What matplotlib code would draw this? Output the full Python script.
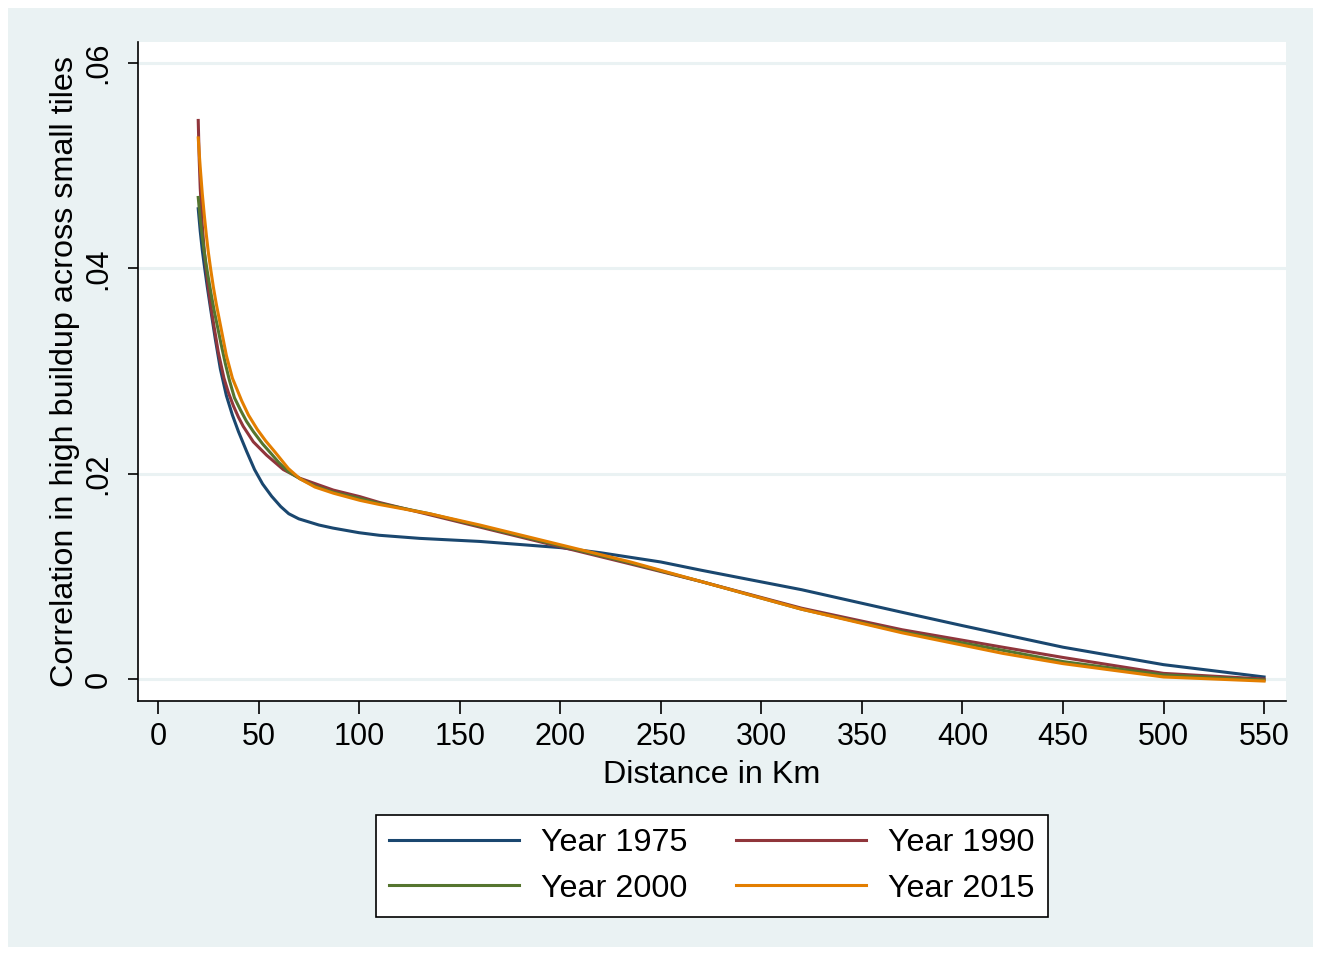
import matplotlib.pyplot as plt
from matplotlib.patches import Rectangle

plt.rcParams['font.family'] = ['Liberation Sans', 'DejaVu Sans']

# distance (km) and correlation for each year
dist_1975 = [20, 21, 22, 23, 24.5, 26.5, 28.5, 31, 34, 37, 40, 44, 48, 52, 56.5, 61, 65,
             70, 75, 80, 87, 100, 110, 130, 160, 200, 220, 250, 270, 320, 370, 400, 450,
             500, 550]
corr_1975 = [.0458, .0436, .0418, .0403, .0382, .0356, .0331, .0302, .0276, .0257, .0241,
             .0222, .0204, .0190, .0178, .0168, .0161, .0156, .0153, .0150, .0147, .01425,
             .0140, .0137, .0134, .0128, .0123, .0114, .0106, .0087, .0065, .0052, .0031,
             .0014, .0002]

dist_1990 = [20, 20.5, 21, 22, 23, 23.9, 25, 26.5, 27.8, 30, 32.8, 35, 37.5, 40, 42.4, 47.4,
             54, 62.3, 70.6, 87.2, 100.4, 110, 135, 160, 185, 210, 235, 270, 320, 370, 420,
             450, 500, 550]
corr_1990 = [.0544, .0505, .0478, .0442, .0417, .0400, .0381, .0360, .0344, .0318, .0293,
             .0279, .0266, .0255, .0246, .0231, .0218, .0204, .01955, .0184, .01776, .0172,
             .0160, .0148, .0136, .0124, .0112, .0095, .0069, .0048, .0031, .0021, .00055,
             .0000]

dist_2000 = [20, 21, 22, 23, 24, 25, 26.5, 28, 29.5, 31.5, 33.5, 35.5, 38, 41, 44, 47.4,
             52, 56.5, 60, 64.8, 70.6, 78, 87, 100, 110, 135, 160, 185, 210, 235, 270, 320,
             370, 420, 450, 500, 550]
corr_2000 = [.0469, .0448, .0431, .0416, .0403, .0391, .0374, .0358, .0344, .0325, .0307,
             .0291, .0274, .0262, .0251, .0241, .0229, .0219, .0211, .0202, .0195, .0188,
             .0182, .0176, .0171, .0161, .0149, .0137, .0125, .0113, .0095, .0068, .0046,
             .0028, .0017, .0004, -.0001]

dist_2015 = [20, 20.5, 21, 22, 23, 24, 25, 26.2, 27.5, 29, 31.2, 34, 37, 41.6, 45, 49.4,
             53.5, 58.2, 64.8, 70.6, 78, 87.2, 100.4, 110, 135, 160, 185, 210, 235, 270,
             320, 370, 420, 450, 500, 550]
corr_2015 = [.0527, .0512, .0498, .0473, .0452, .0433, .0416, .0399, .0382, .0365, .0343,
             .0315, .0293, .0271, .0257, .0243, .0232, .0221, .0205, .0195, .0187, .0181,
             .0174, .0170, .0161, .0150, .0138, .0126, .0114, .0095, .0068, .0045, .0025,
             .0015, .0002, -.0002]

x_ticks = [0, 50, 100, 150, 200, 250, 300, 350, 400, 450, 500, 550]
y_ticks = [0, .02, .04, .06]
y_tick_labels = ['0', '.02', '.04', '.06']

W, H = 1321, 955
fig = plt.figure(figsize=(W / 100, H / 100), dpi=100, facecolor='white')

# stata-style graph region behind everything
fig.patches.append(Rectangle((8 / W, 8 / H), 1 - 16 / W, 1 - 16 / H,
                             transform=fig.transFigure, facecolor='#eaf2f3',
                             edgecolor='none', zorder=-10))

ax = fig.add_axes([138 / W, (H - 701) / H, 1148 / W, 659 / H])
ax.set_facecolor('white')

l75, = ax.plot(dist_1975, corr_1975, color='#1a476f', lw=2.2, label='Year 1975')
l90, = ax.plot(dist_1990, corr_1990, color='#90353b', lw=2.2, label='Year 1990')
l00, = ax.plot(dist_2000, corr_2000, color='#55752f', lw=2.2, label='Year 2000')
l15, = ax.plot(dist_2015, corr_2015, color='#e37e00', lw=2.2, label='Year 2015')

ax.set_xlim(-9.95, 560.9)
ax.set_ylim(-0.00214, 0.06204)
ax.set_xticks(x_ticks)
ax.set_yticks(y_ticks)
ax.set_yticklabels(y_tick_labels, rotation=90, va='center')

ax.grid(axis='y', color='#eaf2f3', lw=2.2)
ax.set_axisbelow(True)

for side in ['top', 'right']:
    ax.spines[side].set_visible(False)
for side in ['left', 'bottom']:
    ax.spines[side].set_linewidth(1.2)

ax.tick_params(axis='x', length=9, width=1.2, labelsize=22, pad=6)
ax.tick_params(axis='y', length=7.5, width=1.2, labelsize=22, pad=10)

ax.set_xlabel('Distance in Km', fontsize=23.3, labelpad=6)
ax.set_ylabel('Correlation in high buildup across small tiles', fontsize=23.3, labelpad=3)

# legend filled row by row: 1975 | 1990 / 2000 | 2015
leg = fig.legend([l75, l00, l90, l15], ['Year 1975', 'Year 2000', 'Year 1990', 'Year 2015'],
                 loc='center', bbox_to_anchor=(712 / W, (H - 866) / H), ncol=2,
                 fontsize=23.3, handlelength=4.0, handletextpad=0.7, columnspacing=1.5,
                 labelspacing=0.48, borderpad=0.4, frameon=True, fancybox=False)
leg.get_frame().set_edgecolor('black')
leg.get_frame().set_linewidth(1.2)
leg.get_frame().set_facecolor('white')
leg.get_frame().set_alpha(1)

fig.savefig('out.png', dpi=100, facecolor='white')
